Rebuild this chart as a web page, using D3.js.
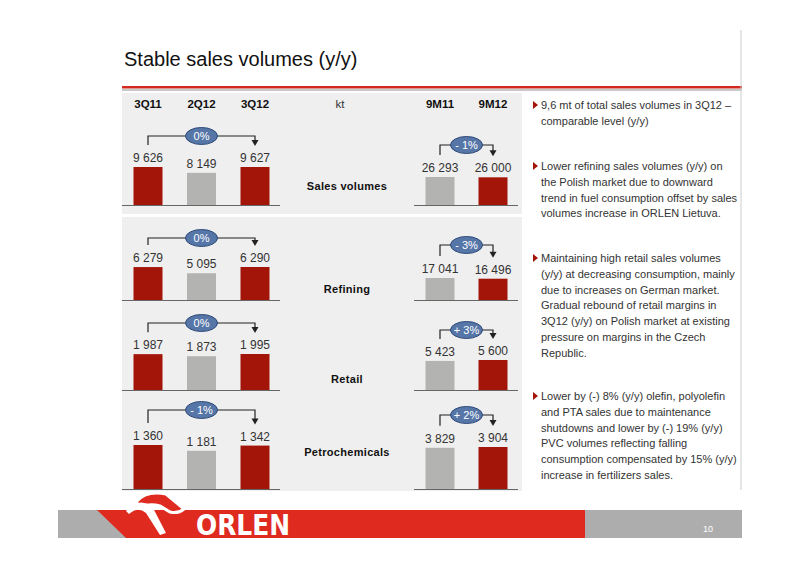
<!DOCTYPE html><html><head><meta charset="utf-8"><script src="https://cdn.jsdelivr.net/npm/d3@7"></script>
<style>body{margin:0;background:#fff}svg{font-family:"Liberation Sans",Arial,sans-serif}</style></head><body><svg id="c" width="800" height="565"></svg>
<script>
const quarters=["3Q11","2Q12","3Q12"];
const periods=["9M11","9M12"];
const segments=["Sales volumes","Refining","Retail","Petrochemicals"];
const quarterValues=[[9626,8149,9627],[6279,5095,6290],[1987,1873,1995],[1360,1181,1342]];
const periodValues=[[26293,26000],[17041,16496],[5423,5600],[3829,3904]];
const quarterChange=["0%","0%","0%","- 1%"];
const periodChange=["- 1%","- 3%","+ 3%","+ 2%"];
const bullets=[
["9,6 mt of total sales volumes in 3Q12 –","comparable level (y/y)"],
["Lower refining sales volumes (y/y) on","the Polish market due to downward","trend in fuel consumption offset by sales","volumes increase in ORLEN Lietuva."],
["Maintaining high retail sales volumes","(y/y) at decreasing consumption, mainly","due to increases on German market.","Gradual rebound of retail margins in","3Q12 (y/y) on Polish market at existing","pressure on margins in the Czech","Republic."],
["Lower by (-) 8% (y/y) olefin, polyolefin","and PTA sales due to maintenance","shutdowns and lower by (-) 19% (y/y)","PVC volumes reflecting falling","consumption compensated by 15% (y/y)","increase in fertilizers sales."]];

const svg=d3.select("#c");
const fmt=v=>d3.format(",")(v).replace(/,/g," ");
const RED="#a31509",GRAY="#b3b3b2";
svg.append("text").attr("x",124).attr("y",66).attr("font-size",20).attr("fill","#111").text("Stable sales volumes (y/y)");
svg.append("rect").attr("x",122).attr("y",86).attr("width",620).attr("height",2.5).attr("fill","#d22a1f");
svg.append("rect").attr("x",122).attr("y",89).attr("width",620).attr("height",2).attr("fill","#c8c8c8");
svg.append("line").attr("x1",741).attr("x2",741).attr("y1",30).attr("y2",490).attr("stroke","#ccc");
const secs=[{base:205,lh:38,rh:28,lb:136,rb:145,lab:190},
{base:300,lh:33,rh:22,lb:238,rb:245,lab:293},
{base:390,lh:36,rh:30,lb:323,rb:330,lab:383},
{base:489,lh:44,rh:42,lb:410,rb:415,lab:456}];
svg.append("rect").attr("x",122).attr("y",93).attr("width",400).attr("height",121).attr("fill","#efefef");
svg.append("rect").attr("x",122).attr("y",217).attr("width",400).attr("height",274).attr("fill","#efefef");
const xq=d3.scalePoint().domain(quarters).range([148,255]);
const xp=d3.scalePoint().domain(periods).range([440,493]);
svg.selectAll(".hq").data(quarters.concat(periods)).join("text").attr("x",d=>quarters.includes(d)?xq(d):xp(d)).attr("y",108).attr("text-anchor","middle").attr("font-size",11.5).attr("font-weight","bold").attr("fill","#111").text(d=>d);
svg.append("text").attr("x",340).attr("y",108).attr("text-anchor","middle").attr("font-size",11.5).attr("fill","#333").text("kt");
const bw=29;
segments.forEach((s,i)=>{
 const S=secs[i];
 const yl=d3.scaleLinear().domain([0,d3.max(quarterValues[i])]).range([S.base,S.base-S.lh]);
 const yr=d3.scaleLinear().domain([0,d3.max(periodValues[i])]).range([S.base,S.base-S.rh]);
 const g=svg.append("g");
 g.selectAll(".bq").data(quarterValues[i]).join("rect").attr("x",(d,j)=>xq(quarters[j])-bw/2).attr("y",d=>yl(d)).attr("width",bw).attr("height",d=>S.base-yl(d)).attr("fill",(d,j)=>j==1?GRAY:RED);
 g.selectAll(".lq").data(quarterValues[i]).join("text").attr("x",(d,j)=>xq(quarters[j])).attr("y",d=>yl(d)-5).attr("text-anchor","middle").attr("font-size",12).attr("fill","#333").text(fmt);
 g.selectAll(".bp").data(periodValues[i]).join("rect").attr("x",(d,j)=>xp(periods[j])-bw/2).attr("y",d=>yr(d)).attr("width",bw).attr("height",d=>S.base-yr(d)).attr("fill",(d,j)=>j==0?GRAY:RED);
 g.selectAll(".lp").data(periodValues[i]).join("text").attr("x",(d,j)=>xp(periods[j])).attr("y",d=>yr(d)-5).attr("text-anchor","middle").attr("font-size",12).attr("fill","#333").text(fmt);
 g.append("line").attr("x1",122).attr("x2",280).attr("y1",S.base+0.5).attr("y2",S.base+0.5).attr("stroke","#666");
 g.append("line").attr("x1",414).attr("x2",518).attr("y1",S.base+0.5).attr("y2",S.base+0.5).attr("stroke","#666");
 g.append("text").attr("x",347).attr("y",S.lab).attr("text-anchor","middle").attr("font-size",11).attr("font-weight","bold").attr("letter-spacing",0.3).attr("fill","#111").text(s);
 const bracket=(x1,x2,yb,t1,t2,lab)=>{
  g.append("path").attr("d",`M${x1},${t1-22}V${yb}H${x2}V${t2-26}`).attr("fill","none").attr("stroke","#222").attr("stroke-width",1.2);
  g.append("path").attr("d",`M${x2-3.5},${t2-27}L${x2+3.5},${t2-27}L${x2},${t2-21}Z`).attr("fill","#222");
  const cx=(x1+x2)/2;
  g.append("ellipse").attr("cx",cx).attr("cy",yb).attr("rx",16).attr("ry",8.5).attr("fill","#5676a8").attr("stroke","#2e4a78");
  g.append("text").attr("x",cx).attr("y",yb+4).attr("text-anchor","middle").attr("font-size",11).attr("fill","#fff").text(lab);
 };
 bracket(xq(quarters[0]),xq(quarters[2]),S.lb,yl(quarterValues[i][0]),yl(quarterValues[i][2]),quarterChange[i]);
 bracket(xp(periods[0]),xp(periods[1]),S.rb,yr(periodValues[i][0]),yr(periodValues[i][1]),periodChange[i]);
});
const by=[109,170,262,400];
bullets.forEach((b,i)=>{
 svg.append("path").attr("d",`M533,${by[i]-8}L538,${by[i]-4}L533,${by[i]}Z`).attr("fill","#a31509");
 const t=svg.append("text").attr("font-size",11).attr("fill","#333");
 b.forEach((l,k)=>t.append("tspan").attr("x",541).attr("y",by[i]+k*15.8).text(l));
});
svg.append("rect").attr("x",58).attr("y",510).attr("width",684).attr("height",28).attr("fill","#adadad");
svg.append("path").attr("d","M97,510L585,510L585,538L126,538Z").attr("fill","#de2a1f");
svg.append("path").attr("d","M136,502Q146,490 166,494L184,509Q178,514 170,512L160,506Q150,503 140,507Z").attr("fill","#de2a1f").attr("stroke","#fff").attr("stroke-width",3);
svg.append("path").attr("d","M126,511Q138,497 152,506L166,533L160,535L146,513Q138,506 129,514Z").attr("fill","#fff");
svg.append("text").attr("x",196).attr("y",535).attr("font-size",28).attr("font-weight","bold").attr("fill","#fff").attr("font-family","Liberation Sans Narrow, DejaVu Sans Condensed").attr("textLength",94).attr("lengthAdjust","spacingAndGlyphs").text("ORLEN");
svg.append("text").attr("x",703).attr("y",532).attr("font-size",9).attr("fill","#fff").text("10");
</script></body></html>
